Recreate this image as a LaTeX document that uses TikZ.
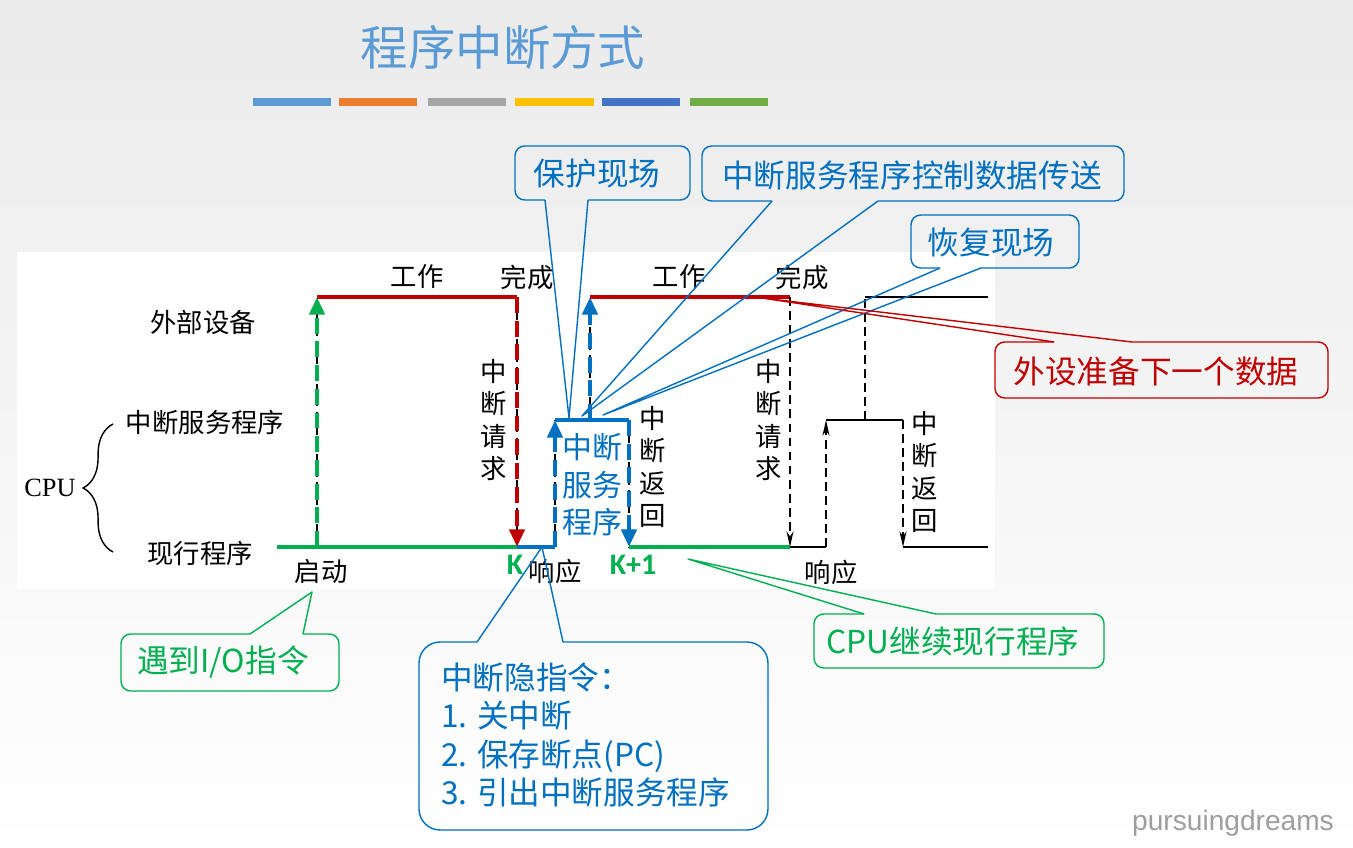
\documentclass[tikz,border=0pt]{standalone}
\usepackage{fontspec}
\setmainfont{Liberation Serif}
\newfontfamily\cjk{Noto Sans CJK SC}
\newfontfamily\calib{Carlito}
\newfontfamily\wmark{Liberation Sans}
\usetikzlibrary{arrows.meta,decorations.pathreplacing}

\definecolor{devred}{HTML}{C00000}
\definecolor{cpugreen}{HTML}{00B050}
\definecolor{isrblue}{HTML}{0070C0}
\definecolor{titleblue}{HTML}{5B9BD5}
\definecolor{barA}{HTML}{5B9BD5}
\definecolor{barB}{HTML}{ED7D31}
\definecolor{barC}{HTML}{A5A5A5}
\definecolor{barD}{HTML}{FFC000}
\definecolor{barE}{HTML}{4472C4}
\definecolor{barF}{HTML}{70AD47}

\begin{document}
\begin{tikzpicture}[x=0.02cm,y=-0.02cm]

    \tikzstyle{lbl} = [font=\cjk\fontsize{15}{18}\selectfont, inner sep=0pt]
    \tikzstyle{vlbl} = [align=center, font=\cjk\fontsize{15}{18.5}\selectfont, inner sep=0pt]
    \tikzstyle{kmark} = [font=\calib\bfseries\fontsize{17}{20}\selectfont, text=cpugreen, inner sep=0pt]
    \tikzstyle{thickline} = [line width=2.8pt]
    \tikzstyle{thickdash} = [line width=2.8pt, dash pattern=on 9pt off 4.5pt, -{Triangle[length=10pt,width=8.5pt]}]
    \tikzstyle{thinline} = [line width=1.1pt]
    \tikzstyle{thindash} = [line width=0.8pt, dash pattern=on 5pt off 3pt]
    \tikzstyle{thinarrow} = [thindash, -{Stealth[length=9pt,width=4pt]}]
    \tikzstyle{calltext} = [font=\cjk\fontsize{18}{21.7}\selectfont, inner sep=0pt]
    \tikzstyle{callbox} = [line width=0.8pt, rounded corners=5.5pt]
    \tikzstyle{pointer} = [line width=0.8pt, line join=round]

    % background
    \useasboundingbox (0,0) rectangle (1353,848);
    \shade[top color=black!8, bottom color=white] (0,0) rectangle (1353,848);
    \fill[white] (17,252) rectangle (995,589);

    % title
    \node[font=\cjk\fontsize{27}{30}\selectfont, text=titleblue, inner sep=0pt] (title) at (503,47) {程序中断方式};
    \fill[barA] (253,98) rectangle (331,106);
    \fill[barB] (339,98) rectangle (417,106);
    \fill[barC] (428,98) rectangle (506,106);
    \fill[barD] (515,98) rectangle (594,106);
    \fill[barE] (602,98) rectangle (680,106);
    \fill[barF] (690,98) rectangle (768,106);

    % time line points
    \coordinate (p0) at (277,547);
    \coordinate (p1) at (317,547);
    \coordinate (d1) at (317,297);
    \coordinate (d2) at (517,297);
    \coordinate (p2) at (517,547);
    \coordinate (p3) at (555,547);
    \coordinate (s1) at (555,420);
    \coordinate (s2) at (590,420);
    \coordinate (d3) at (590,297);
    \coordinate (s3) at (629,420);
    \coordinate (p4) at (629,547);
    \coordinate (d4) at (790,297);
    \coordinate (p5) at (790,547);
    \coordinate (p6) at (826,547);
    \coordinate (s4) at (826,420);
    \coordinate (s5) at (865,420);
    \coordinate (d5) at (865,297);
    \coordinate (d6) at (988,297);
    \coordinate (s6) at (903,420);
    \coordinate (p7) at (903,547);
    \coordinate (p8) at (988,547);

    \draw[thindash] (p1) -- (d1);
    \draw[thindash] (d2) -- (p2);
    \draw[thindash] (p3) -- (s1);
    \draw[thindash] (s2) -- (d3);
    \draw[thindash] (s3) -- (p4);

    \draw[thickline, cpugreen] (p0) -- (p2);
    \draw[thickdash, cpugreen] (p1) -- (d1);
    \draw[thickline, devred] (d1) -- (d2);
    \draw[thickdash, devred] (d2) -- (p2);
    \draw[thickline, isrblue] (p2) -- (p3);
    \draw[thickdash, isrblue] (p3) -- (s1);
    \draw[thickline, isrblue] (s1) -- (s3);
    \draw[thickdash, isrblue] (s2) -- (d3);
    \draw[thickline, devred] (d3) -- (d4);
    \draw[thickdash, isrblue] (s3) -- (p4);
    \draw[thickline, cpugreen] (p4) -- (p5);

    \draw[thinarrow] (d4) -- (p5);
    \draw[thinline] (p5) -- (p6);
    \draw[thinarrow] (p6) -- (s4);
    \draw[thinline] (s4) -- (s6);
    \draw[thindash] (s5) -- (d5);
    \draw[thinline] (d5) -- (d6);
    \draw[thinarrow] (s6) -- (p7);
    \draw[thinline] (p7) -- (p8);

    % labels
    \node[lbl] (dev) at (203,322) {外部设备};
    \node[lbl] (isr) at (205,422) {中断服务程序};
    \node[lbl] (cur) at (200,553) {现行程序};
    \node[font=\fontsize{15}{18}\selectfont, inner sep=0pt] (cpu) at (50,488) {CPU};
    \draw[decorate, decoration={brace, amplitude=17pt}, line width=0.8pt] (113,552) -- (113,424);

    \node[lbl] (work1) at (417,277) {工作};
    \node[lbl] (done1) at (527,277) {完成};
    \node[lbl] (work2) at (679,277) {工作};
    \node[lbl] (done2) at (802,277) {完成};
    \node[lbl] (start) at (321,571) {启动};
    \node[lbl] (resp1) at (555,571) {响应};
    \node[lbl] (resp2) at (831,572) {响应};
    \node[vlbl] (req1) at (494,420) {中\\断\\请\\求};
    \node[vlbl] (ret1) at (653,467) {中\\断\\返\\回};
    \node[vlbl] (req2) at (769,420) {中\\断\\请\\求};
    \node[vlbl] (ret2) at (925,472) {中\\断\\返\\回};
    \node[align=center, font=\cjk\fontsize{17}{21.3}\selectfont, text=isrblue, inner sep=0pt] (isrbox) at (592,485) {中断\\服务\\程序};
    \node[kmark] (k) at (515,565) {K};
    \node[kmark] (k1) at (633,565) {K+1};

    % callouts
    \node[calltext, text=isrblue] (protect) at (597,174) {保护现场};
    \coordinate (tipA) at (569,418);
    \draw[callbox, isrblue] (545,200) -- (515,200) -- (515,146) -- (690,146) -- (690,200) -- (588,200);
    \draw[pointer, isrblue] (545,200) -- (tipA) -- (588,200);

    \node[calltext, text=isrblue] (ctrl) at (912,175) {中断服务程序控制数据传送};
    \coordinate (tipB) at (582,416);
    \draw[callbox, isrblue] (772,201) -- (702,201) -- (702,146) -- (1124,146) -- (1124,201) -- (878,201);
    \draw[pointer, isrblue] (772,201) -- (tipB) -- (878,201);

    \node[calltext, text=isrblue] (restore) at (991,242) {恢复现场};
    \coordinate (tipC) at (603,415);
    \draw[callbox, isrblue] (940,268) -- (911,268) -- (911,215) -- (1079,215) -- (1079,268) -- (981,268);
    \draw[pointer, isrblue] (940,268) -- (tipC) -- (981,268);

    \node[calltext, text=devred] (next) at (1156,371) {外设准备下一个数据};
    \coordinate (tipD) at (762,298);
    \draw[callbox, devred] (1054,342) -- (995,342) -- (995,398) -- (1328,398) -- (1328,342) -- (1132,342);
    \draw[pointer, devred] (1054,342) -- (tipD) -- (1132,342);

    \node[calltext, text=cpugreen] (cont) at (953,641) {CPU继续现行程序};
    \coordinate (tipE) at (688,559);
    \draw[callbox, cpugreen] (864,614) -- (814,614) -- (814,668) -- (1104,668) -- (1104,614) -- (936,614);
    \draw[pointer, cpugreen] (864,614) -- (tipE) -- (936,614);

    \node[calltext, text=cpugreen] (io) at (223,662) {遇到I/O指令};
    \coordinate (tipF) at (312,592);
    \draw[callbox, cpugreen] (250,634) -- (121,634) -- (121,691) -- (339,691) -- (339,634) -- (303,634);
    \draw[pointer, cpugreen] (250,634) -- (tipF) -- (303,634);

    \node[calltext, text=isrblue, align=left, anchor=west] (hidden) at (441,735) {中断隐指令：\\1. 关中断\\2. 保存断点(PC)\\3. 引出中断服务程序};
    \coordinate (tipG) at (542,547);
    \draw[callbox, rounded corners=12pt, isrblue] (477,642) -- (419,642) -- (419,830) -- (768,830) -- (768,642) -- (563,642);
    \draw[pointer, isrblue] (477,642) -- (tipG) -- (563,642);

    \node[font=\wmark\fontsize{16}{19}\selectfont, text=black!38, inner sep=0pt] (mark) at (1233,823) {pursuingdreams};
\end{tikzpicture}
\end{document}
